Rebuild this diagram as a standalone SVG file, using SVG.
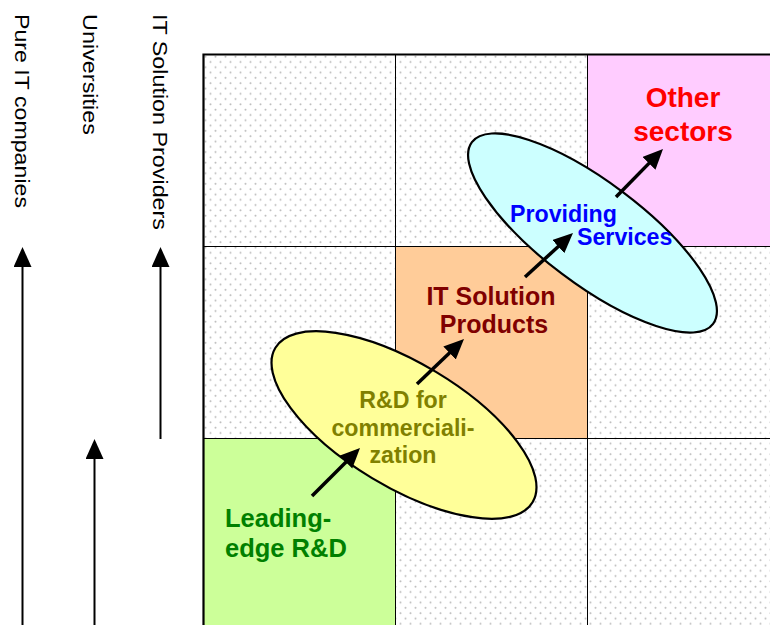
<svg xmlns="http://www.w3.org/2000/svg" width="770" height="625" viewBox="0 0 770 625">
  <style>
    .axis { font-family: "Liberation Sans", Arial, sans-serif; font-size: 19.5px; fill: #000; }
    .lbl { font-family: "Liberation Sans", Arial, sans-serif; font-weight: bold; }
    .grid { stroke: #000; stroke-width: 1; fill: none; }
    .conn { stroke: #000; fill: none; marker-end: url(#head); }
  </style>
  <defs>
    <pattern id="dots" width="10" height="10.6" patternUnits="userSpaceOnUse" x="203" y="54">
      <rect width="10" height="10.6" fill="#ffffff"/>
      <circle cx="2.5" cy="2.6" r="1" fill="#bdbdbd"/>
      <circle cx="7.5" cy="7.9" r="1" fill="#bdbdbd"/>
    </pattern>
    <marker id="head" markerUnits="userSpaceOnUse" markerWidth="22" markerHeight="20" refX="2" refY="9" orient="auto">
      <path d="M0,0 L20,9 L0,18 z" fill="#000"/>
    </marker>
  </defs>
  <rect width="770" height="625" fill="#ffffff"/>

  <g id="matrix">
    <rect x="203" y="54" width="567" height="571" fill="url(#dots)"/>
    <rect x="587" y="54" width="183" height="192" fill="#ffccff"/>
    <rect x="395" y="246" width="192" height="192" fill="#ffcc99"/>
    <rect x="203" y="438" width="192" height="187" fill="#ccff99"/>
    <path class="grid" d="M395.5,54 V625 M587.5,54 V625 M203,246.5 H770 M203,438.5 H770"/>
    <path d="M203.5,625 V54.5 H770" stroke="#000" stroke-width="2.2" fill="none"/>
  </g>

  <g id="axis-pure-it">
    <text class="axis" transform="translate(15,14) rotate(90)" textLength="194" lengthAdjust="spacingAndGlyphs">Pure IT companies</text>
  </g>
  <g id="axis-universities">
    <text class="axis" transform="translate(83,14) rotate(90)" textLength="121" lengthAdjust="spacingAndGlyphs">Universities</text>
  </g>
  <g id="axis-it-solution-providers">
    <text class="axis" transform="translate(153,14) rotate(90)" textLength="216" lengthAdjust="spacingAndGlyphs">IT Solution Providers</text>
  </g>

  <g id="ellipse-rd">
    <ellipse cx="404" cy="425" rx="150" ry="62" transform="rotate(31 404 425)" fill="#ffff99" stroke="#000" stroke-width="2.2"/>
  </g>
  <g id="ellipse-services">
    <ellipse cx="592.5" cy="233" rx="151" ry="51" transform="rotate(37 592.5 233)" fill="#ccffff" stroke="#000" stroke-width="2.2"/>
  </g>

  <g id="node-leading-edge">
    <text class="lbl" font-size="25.5" fill="#008000"><tspan x="225" y="527">Leading-</tspan><tspan x="225" y="557">edge R&amp;D</tspan></text>
  </g>
  <g id="node-rd-commercialization">
    <text class="lbl" font-size="23.2" fill="#808000" text-anchor="middle"><tspan x="403" y="408">R&amp;D for</tspan><tspan x="403" y="436">commerciali-</tspan><tspan x="403" y="463">zation</tspan></text>
  </g>
  <g id="node-it-solution-products">
    <text class="lbl" font-size="25" fill="#800000" text-anchor="middle"><tspan x="491" y="305">IT Solution</tspan><tspan x="494" y="333">Products</tspan></text>
  </g>
  <g id="node-providing-services">
    <text class="lbl" font-size="23.2" fill="#0000ff"><tspan x="510" y="222">Providing</tspan><tspan x="577" y="245">Services</tspan></text>
  </g>
  <g id="node-other-sectors">
    <text class="lbl" font-size="28" fill="#ff0000" text-anchor="middle"><tspan x="683" y="107">Other</tspan><tspan x="683" y="141">sectors</tspan></text>
  </g>

  <g id="connectors">
    <line class="conn" x1="22.5" y1="625" x2="22.5" y2="265" stroke-width="2"/>
    <line class="conn" x1="94.5" y1="625" x2="94.5" y2="457" stroke-width="2"/>
    <line class="conn" x1="160.5" y1="439" x2="160.5" y2="265" stroke-width="2"/>
    <line class="conn" x1="312" y1="496" x2="347.3" y2="460.7" stroke-width="3.5"/>
    <line class="conn" x1="417" y1="384" x2="451" y2="351.5" stroke-width="3.5"/>
    <line class="conn" x1="525" y1="277" x2="559.7" y2="245.2" stroke-width="3.5"/>
    <line class="conn" x1="616" y1="197" x2="650.4" y2="161.9" stroke-width="3.5"/>
  </g>
</svg>
